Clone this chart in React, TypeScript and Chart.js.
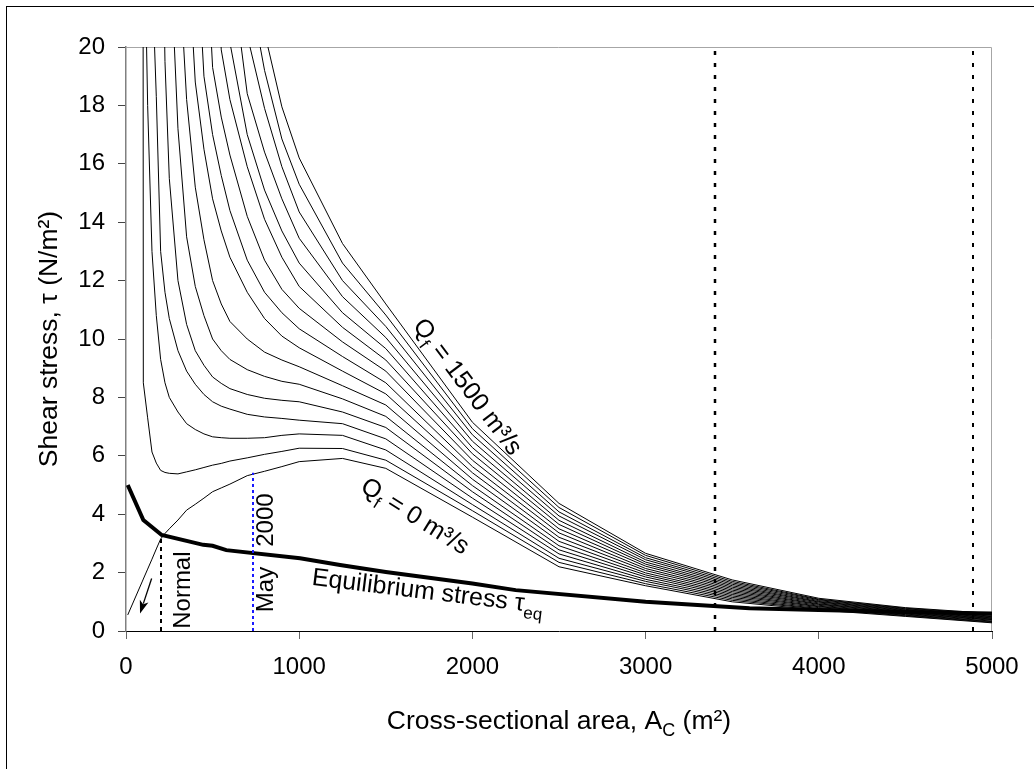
import React, { useEffect, useRef } from 'react';
import { Chart, registerables } from 'chart.js';

Chart.register(...registerables);

const FONT = "'Liberation Sans', Arial, Helvetica, sans-serif";

// Cross-sectional area grid (m²)
const AREA = [10, 95, 100, 125, 150, 175, 200, 225, 250, 300, 350, 400, 450, 500, 550, 600, 700, 800, 900, 1000, 1250, 1500, 2000, 2500, 3000, 3500, 4000, 4500, 5000];

// Fresh-water discharge of each curve (m³/s)
const QF = [0, 100, 200, 300, 400, 500, 600, 700, 800, 900, 1000, 1100, 1200, 1300, 1400, 1500];

// Shear stress (N/m²) of each curve on the AREA grid
const TAU_Q0 = [0.55, 1.71, 1.78, 2.12, 2.46, 2.81, 3.15, 3.34, 3.5, 3.8, 4.14, 4.34, 4.55, 4.77, 4.9, 5.03, 5.32, 5.47, 5.63, 5.8, 5.91, 5.57, 3.9, 2.2, 1.55, 1.0, 0.72, 0.5, 0.28];
const TAU_Q100 = [null, 60, 8.5, 7.3, 6.13, 5.75, 5.5, 5.43, 5.4, 5.38, 5.45, 5.52, 5.6, 5.68, 5.74, 5.82, 5.93, 6.05, 6.15, 6.26, 6.25, 5.85, 4.12, 2.35, 1.62, 1.05, 0.75, 0.52, 0.3];
const TAU_Q200 = [null, null, 26, 18.0, 13.0, 10.8, 9.3, 8.5, 8.0, 7.5, 7.1, 6.9, 6.75, 6.65, 6.62, 6.6, 6.6, 6.62, 6.7, 6.75, 6.7, 6.2, 4.33, 2.49, 1.7, 1.1, 0.77, 0.54, 0.32];
const TAU_Q300 = [null, null, null, 45, 22.5, 18.3, 13.0, 11.6, 10.7, 9.6, 8.9, 8.45, 8.1, 7.85, 7.7, 7.6, 7.42, 7.33, 7.28, 7.22, 7.1, 6.58, 4.55, 2.64, 1.77, 1.15, 0.8, 0.56, 0.34];
const TAU_Q400 = [null, null, null, null, null, 40, 28, 19.5, 15.5, 12.0, 10.5, 9.6, 9.1, 8.7, 8.48, 8.3, 8.1, 7.97, 7.9, 7.85, 7.5, 6.97, 4.77, 2.78, 1.85, 1.2, 0.83, 0.58, 0.37];
const TAU_Q500 = [null, null, null, null, null, null, null, 36, 24, 17.2, 13.5, 11.8, 10.8, 10.0, 9.6, 9.3, 8.95, 8.72, 8.55, 8.45, 7.95, 7.35, 4.98, 2.92, 1.92, 1.25, 0.85, 0.6, 0.39];
const TAU_Q600 = [null, null, null, null, null, null, null, null, 35, 23.5, 18.2, 15.2, 13.4, 12.0, 11.2, 10.6, 10.0, 9.55, 9.28, 9.05, 8.4, 7.74, 5.2, 3.07, 1.99, 1.3, 0.88, 0.62, 0.41];
const TAU_Q700 = [null, null, null, null, null, null, null, null, null, 34, 24, 18.8, 16.5, 14.8, 13.7, 12.8, 11.6, 10.7, 10.1, 9.7, 8.9, 8.12, 5.42, 3.21, 2.07, 1.35, 0.91, 0.64, 0.43];
const TAU_Q800 = [null, null, null, null, null, null, null, null, null, null, 34, 24.5, 19.0, 17.0, 15.6, 14.4, 12.7, 11.6, 10.9, 10.35, 9.4, 8.5, 5.63, 3.36, 2.14, 1.4, 0.93, 0.66, 0.45];
const TAU_Q900 = [null, null, null, null, null, null, null, null, null, null, null, 35, 25, 19.3, 17.6, 16.3, 14.2, 12.7, 11.7, 11.05, 9.9, 8.9, 5.85, 3.5, 2.22, 1.45, 0.96, 0.68, 0.47];
const TAU_Q1000 = [null, null, null, null, null, null, null, null, null, null, null, null, 36, 26, 19.9, 18.2, 15.9, 14.1, 12.8, 11.8, 10.4, 9.28, 6.07, 3.65, 2.29, 1.5, 0.99, 0.7, 0.49];
const TAU_Q1100 = [null, null, null, null, null, null, null, null, null, null, null, null, null, 34, 25.5, 20.15, 17.0, 15.1, 13.7, 12.6, 10.9, 9.67, 6.28, 3.79, 2.36, 1.55, 1.01, 0.72, 0.51];
const TAU_Q1200 = [null, null, null, null, null, null, null, null, null, null, null, null, null, null, 31, 23.0, 18.4, 16.4, 14.8, 13.45, 11.45, 10.05, 6.5, 3.94, 2.44, 1.6, 1.04, 0.74, 0.54];
const TAU_Q1300 = [null, null, null, null, null, null, null, null, null, null, null, null, null, null, null, 25.5, 20.4, 17.9, 15.9, 14.35, 12.0, 10.43, 6.72, 4.08, 2.51, 1.65, 1.07, 0.76, 0.56];
const TAU_Q1400 = [null, null, null, null, null, null, null, null, null, null, null, null, null, null, null, 28, 22.4, 19.2, 16.85, 15.3, 12.6, 10.82, 6.93, 4.23, 2.59, 1.7, 1.09, 0.78, 0.58];
const TAU_Q1500 = [null, null, null, null, null, null, null, null, null, null, null, null, null, null, null, null, 25, 20.5, 17.95, 16.2, 13.27, 11.2, 7.15, 4.37, 2.66, 1.75, 1.12, 0.8, 0.6];

const TAU_BY_QF = [TAU_Q0, TAU_Q100, TAU_Q200, TAU_Q300, TAU_Q400, TAU_Q500, TAU_Q600, TAU_Q700, TAU_Q800, TAU_Q900, TAU_Q1000, TAU_Q1100, TAU_Q1200, TAU_Q1300, TAU_Q1400, TAU_Q1500];

// Equilibrium stress curve
const EQ_AREA = [10, 100, 206, 446, 500, 579, 1005, 1236, 1500, 2000, 2250, 3000, 3600, 4000, 4500, 5000];
const EQ_TAU = [5.0, 3.8, 3.29, 2.95, 2.92, 2.77, 2.49, 2.26, 2.02, 1.63, 1.4, 1.0, 0.78, 0.72, 0.65, 0.6];

// Axis ranges
const X_MIN = 0, X_MAX = 5000, X_STEP = 1000;
const Y_MIN = 0, Y_MAX = 20, Y_STEP = 2;

// Vertical reference lines (area, top tau)
const REF_AREA = [200, 731, 3400, 4890];
const REF_TOP = [3.2, 5.42, 20, 20];

// Arrow (area, tau) start -> end
const ARROW_FROM = [148, 1.8];
const ARROW_TO = [81, 0.6];

type Part = { t: string; sub?: boolean };
const NOTES: { parts: Part[]; area: number; tau: number; angle: number; size: number }[] = [
  { parts: [{ t: 'Q' }, { t: 'f', sub: true }, { t: ' = 1500 m³/s' }], area: 1979, tau: 8.39, angle: 53, size: 25 },
  { parts: [{ t: 'Q' }, { t: 'f', sub: true }, { t: ' = 0 m³/s' }], area: 1673, tau: 3.97, angle: 32, size: 25 },
  { parts: [{ t: 'Equilibrium stress ' }, { t: 'τ' }, { t: 'eq', sub: true }], area: 1743, tau: 1.4, angle: 7, size: 25 },
  { parts: [{ t: 'Normal' }], area: 317, tau: 1.4, angle: -90, size: 24 },
  { parts: [{ t: 'May' }], area: 796, tau: 1.42, angle: -90, size: 24 },
  { parts: [{ t: '2000' }], area: 796, tau: 3.8, angle: -90, size: 24 },
];

const REF_STYLE = [
  { color: '#000000', dash: [4, 4], width: 2 },
  { color: '#1a1aff', dash: [3, 3], width: 2 },
  { color: '#000000', dash: [4, 8], width: 2.5 },
  { color: '#000000', dash: [4, 8], width: 2 },
];

function drawRich(ctx: CanvasRenderingContext2D, parts: Part[], x: number, y: number, angleDeg: number, size: number) {
  ctx.save();
  ctx.translate(x, y);
  ctx.rotate((angleDeg * Math.PI) / 180);
  ctx.textBaseline = 'alphabetic';
  ctx.textAlign = 'left';
  ctx.fillStyle = '#000';
  const fonts = parts.map((p) => `${p.sub ? Math.round(size * 0.68) : size}px ${FONT}`);
  const widths = parts.map((p, i) => {
    ctx.font = fonts[i];
    return ctx.measureText(p.t).width;
  });
  const total = widths.reduce((a, b) => a + b, 0);
  let cx = -total / 2;
  const base = size * 0.36;
  parts.forEach((p, i) => {
    ctx.font = fonts[i];
    ctx.fillText(p.t, cx, base + (p.sub ? size * 0.28 : 0));
    cx += widths[i];
  });
  ctx.restore();
}

const overlayPlugin = {
  id: 'overlay',
  beforeDatasetsDraw(chart: any) {
    const { ctx, chartArea } = chart;
    ctx.save();
    ctx.strokeStyle = '#a6a6a6';
    ctx.lineWidth = 1;
    ctx.beginPath();
    ctx.moveTo(chartArea.left, chartArea.top + 0.5);
    ctx.lineTo(chartArea.right - 0.5, chartArea.top + 0.5);
    ctx.lineTo(chartArea.right - 0.5, chartArea.bottom);
    ctx.stroke();
    ctx.restore();
  },
  afterDatasetsDraw(chart: any) {
    const { ctx } = chart;
    const xs = chart.scales.x;
    const ys = chart.scales.y;
    ctx.save();
    REF_AREA.forEach((a, i) => {
      const st = REF_STYLE[i];
      const px = Math.round(xs.getPixelForValue(a));
      ctx.strokeStyle = st.color;
      ctx.lineWidth = st.width;
      ctx.setLineDash(st.dash);
      ctx.beginPath();
      ctx.moveTo(px, ys.getPixelForValue(0));
      ctx.lineTo(px, ys.getPixelForValue(REF_TOP[i]));
      ctx.stroke();
    });
    ctx.setLineDash([]);
    const x1 = xs.getPixelForValue(ARROW_FROM[0]);
    const y1 = ys.getPixelForValue(ARROW_FROM[1]);
    const x2 = xs.getPixelForValue(ARROW_TO[0]);
    const y2 = ys.getPixelForValue(ARROW_TO[1]);
    const ang = Math.atan2(y2 - y1, x2 - x1);
    const hl = 13, hw = 4.5;
    ctx.strokeStyle = '#000';
    ctx.lineWidth = 1.3;
    ctx.beginPath();
    ctx.moveTo(x1, y1);
    ctx.lineTo(x2 - Math.cos(ang) * hl * 0.8, y2 - Math.sin(ang) * hl * 0.8);
    ctx.stroke();
    ctx.fillStyle = '#000';
    ctx.beginPath();
    ctx.moveTo(x2, y2);
    ctx.lineTo(x2 - Math.cos(ang) * hl + Math.sin(ang) * hw, y2 - Math.sin(ang) * hl - Math.cos(ang) * hw);
    ctx.lineTo(x2 - Math.cos(ang) * hl * 0.75, y2 - Math.sin(ang) * hl * 0.75);
    ctx.lineTo(x2 - Math.cos(ang) * hl - Math.sin(ang) * hw, y2 - Math.sin(ang) * hl + Math.cos(ang) * hw);
    ctx.closePath();
    ctx.fill();
    ctx.restore();
  },
  afterDraw(chart: any) {
    const { ctx, chartArea } = chart;
    const xs = chart.scales.x;
    const ys = chart.scales.y;
    NOTES.forEach((n) => {
      drawRich(ctx, n.parts, xs.getPixelForValue(n.area), ys.getPixelForValue(n.tau), n.angle, n.size);
    });
    const cxArea = (chartArea.left + chartArea.right) / 2;
    const cyArea = (chartArea.top + chartArea.bottom) / 2;
    drawRich(ctx, [{ t: 'Cross-sectional area, A' }, { t: 'C', sub: true }, { t: ' (m²)' }], cxArea, chartArea.bottom + 88, 0, 26.5);
    drawRich(ctx, [{ t: 'Shear stress, τ (N/m²)' }], chartArea.left - 79, cyArea, -90, 26.5);
  },
};

export default function App() {
  const ref = useRef<HTMLCanvasElement>(null);
  useEffect(() => {
    const canvas = ref.current;
    if (!canvas) return;
    Chart.defaults.font.family = FONT;
    const datasets: any[] = [
      {
        label: 'Equilibrium stress',
        data: EQ_AREA.map((a, i) => ({ x: a, y: EQ_TAU[i] })),
        borderColor: '#000',
        borderWidth: 4,
        pointRadius: 0,
        tension: 0,
        fill: false,
      },
      ...QF.map((q, k) => ({
        label: `Qf = ${q}`,
        data: AREA.map((a, i) => ({ x: a, y: TAU_BY_QF[k][i] })),
        borderColor: '#000',
        borderWidth: 1,
        pointRadius: 0,
        tension: 0,
        fill: false,
      })),
    ];
    const chart = new Chart(canvas, {
      type: 'line',
      data: { datasets },
      options: {
        animation: false,
        responsive: false,
        maintainAspectRatio: false,
        devicePixelRatio: 1,
        events: [],
        layout: { padding: { left: 0, right: 42, top: 47, bottom: 0 } },
        plugins: { legend: { display: false }, tooltip: { enabled: false } },
        scales: {
          x: {
            type: 'linear',
            min: X_MIN,
            max: X_MAX,
            ticks: {
              stepSize: X_STEP,
              color: '#000',
              font: { family: FONT, size: 24 },
              padding: 14,
              maxRotation: 0,
              autoSkip: false,
              callback: (v: any) => String(v),
            },
            grid: { display: true, drawOnChartArea: false, drawTicks: true, tickLength: 8, color: '#666' },
            border: { display: true, color: '#000', width: 1 },
            afterFit: (s: any) => {
              s.height = 138;
            },
          },
          y: {
            type: 'linear',
            min: Y_MIN,
            max: Y_MAX,
            ticks: {
              stepSize: Y_STEP,
              color: '#000',
              font: { family: FONT, size: 24 },
              padding: 13,
              callback: (v: any) => String(v),
            },
            grid: { display: true, drawOnChartArea: false, drawTicks: true, tickLength: 8, color: '#444' },
            border: { display: true, color: '#808080', width: 1.5 },
            afterFit: (s: any) => {
              s.width = 126;
            },
          },
        },
      } as any,
      plugins: [overlayPlugin],
    });
    return () => chart.destroy();
  }, []);

  return (
    <div style={{ position: 'fixed', left: 0, top: 0, width: 1034, height: 769, overflow: 'hidden', background: '#fff' }}>
      <div style={{ position: 'absolute', left: 6, top: 6, width: 1100, height: 800, borderLeft: '1px solid #000', borderTop: '1px solid #000' }} />
      <canvas ref={ref} width={1034} height={769} style={{ position: 'absolute', left: 0, top: 0, width: 1034, height: 769 }} />
    </div>
  );
}
